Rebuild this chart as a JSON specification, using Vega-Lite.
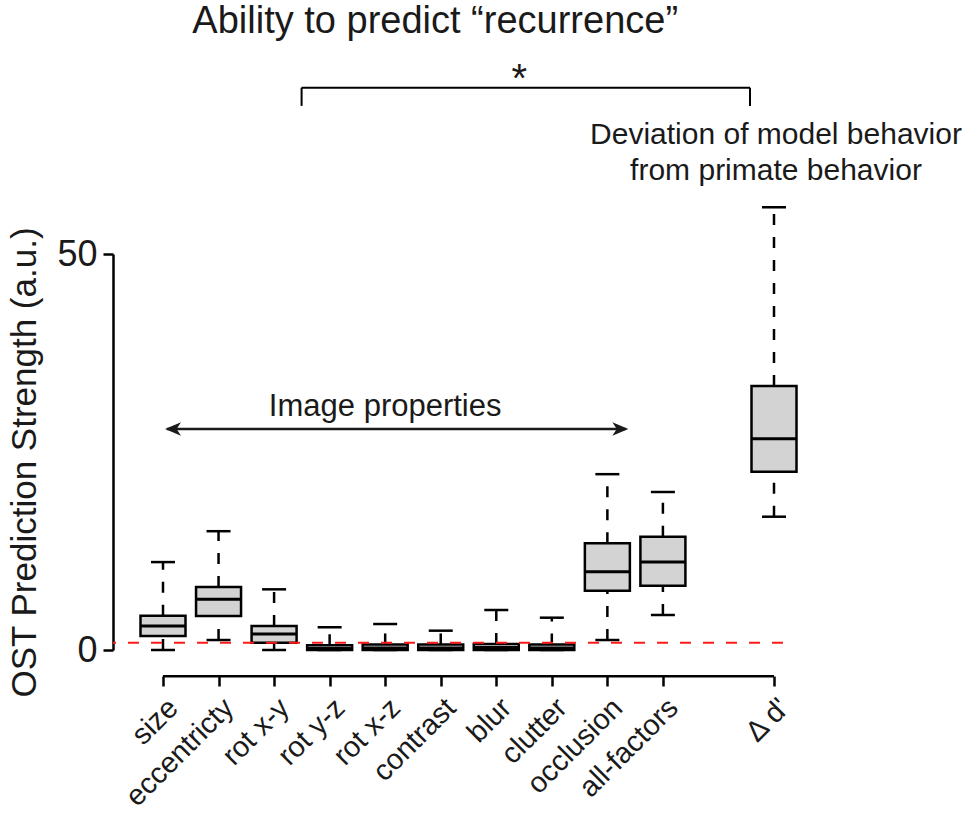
{
  "$schema": "https://vega.github.io/schema/vega-lite/v6.json",
  "width": 670,
  "height": 396,
  "autosize": {"type": "none"},
  "padding": {"left": 113, "top": 254, "right": 192, "bottom": 167},
  "background": "white",
  "config": {
    "view": {"stroke": null},
    "font": "Liberation Sans",
    "axis": {"grid": false, "domainColor": "#000", "tickColor": "#000", "labelColor": "#1a1a1a", "titleColor": "#1a1a1a", "labelFont": "Liberation Sans", "titleFont": "Liberation Sans", "titleFontWeight": "normal"},
    "axisX": {"labelAngle": -45, "labelFontSize": 29, "tickSize": 10, "tickWidth": 2.5, "domain": false, "offset": 26, "labelPadding": 7},
    "axisY": {"labelFontSize": 36, "tickSize": 10, "tickWidth": 2.5, "domainWidth": 2.5, "labelPadding": 6, "titleFontSize": 35, "titlePadding": 14, "titleLimit": 1000, "titleY": 208}
  },
  "data": {"values": [
    {"cat": "size", "min": 0, "q1": 1.77, "median": 3.03, "q3": 4.33, "max": 11.1},
    {"cat": "eccentricty", "min": 1.26, "q1": 4.29, "median": 6.4, "q3": 7.95, "max": 15.0},
    {"cat": "rot x-y", "min": 0, "q1": 0.92, "median": 2.02, "q3": 3.03, "max": 7.66},
    {"cat": "rot y-z", "min": 0, "q1": 0, "median": 0.2, "q3": 0.6, "max": 2.87},
    {"cat": "rot x-z", "min": 0, "q1": 0, "median": 0.25, "q3": 0.7, "max": 3.28},
    {"cat": "contrast", "min": 0, "q1": 0, "median": 0.25, "q3": 0.7, "max": 2.44},
    {"cat": "blur", "min": 0, "q1": 0, "median": 0.3, "q3": 0.75, "max": 5.05},
    {"cat": "clutter", "min": 0, "q1": 0, "median": 0.25, "q3": 0.7, "max": 4.08},
    {"cat": "occlusion", "min": 1.26, "q1": 7.49, "median": 9.89, "q3": 13.47, "max": 22.2},
    {"cat": "all-factors", "min": 4.42, "q1": 8.12, "median": 11.1, "q3": 14.3, "max": 19.95},
    {"cat": "Δ d'", "min": 16.83, "q1": 22.5, "median": 26.68, "q3": 33.33, "max": 55.9}
  ]},
  "layer": [
    {
      "mark": {"type": "rule", "color": "#000", "strokeWidth": 2.5, "strokeDash": [11, 12]},
      "encoding": {
        "x": {"field": "cat", "type": "nominal", "title": null, "scale": {"type": "point", "padding": 0, "domain": ["size", "eccentricty", "rot x-y", "rot y-z", "rot x-z", "contrast", "blur", "clutter", "occlusion", "all-factors", " ", "Δ d'"], "range": [50, 661]}, "axis": {"values": ["size", "eccentricty", "rot x-y", "rot y-z", "rot x-z", "contrast", "blur", "clutter", "occlusion", "all-factors", "Δ d'"]}},
        "y": {"field": "q3", "type": "quantitative", "title": "OST Prediction Strength (a.u.)", "scale": {"domain": [0, 50], "nice": false, "zero": false}, "axis": {"values": [0, 50]}},
        "y2": {"field": "max"}
      }
    },
    {
      "mark": {"type": "rule", "color": "#000", "strokeWidth": 2.5, "strokeDash": [11, 12]},
      "encoding": {
        "x": {"field": "cat", "type": "nominal", "title": null, "scale": {"type": "point", "padding": 0, "domain": ["size", "eccentricty", "rot x-y", "rot y-z", "rot x-z", "contrast", "blur", "clutter", "occlusion", "all-factors", " ", "Δ d'"], "range": [50, 661]}, "axis": {"values": ["size", "eccentricty", "rot x-y", "rot y-z", "rot x-z", "contrast", "blur", "clutter", "occlusion", "all-factors", "Δ d'"]}},
        "y": {"field": "min", "type": "quantitative", "title": "OST Prediction Strength (a.u.)", "scale": {"domain": [0, 50], "nice": false, "zero": false}, "axis": {"values": [0, 50]}},
        "y2": {"field": "q1"}
      }
    },
    {
      "mark": {"type": "tick", "color": "#000", "orient": "horizontal", "size": 24, "thickness": 2.5, "opacity": 1},
      "encoding": {
        "x": {"field": "cat", "type": "nominal", "title": null, "scale": {"type": "point", "padding": 0, "domain": ["size", "eccentricty", "rot x-y", "rot y-z", "rot x-z", "contrast", "blur", "clutter", "occlusion", "all-factors", " ", "Δ d'"], "range": [50, 661]}, "axis": {"values": ["size", "eccentricty", "rot x-y", "rot y-z", "rot x-z", "contrast", "blur", "clutter", "occlusion", "all-factors", "Δ d'"]}},
        "y": {"field": "max", "type": "quantitative", "title": "OST Prediction Strength (a.u.)", "scale": {"domain": [0, 50], "nice": false, "zero": false}, "axis": {"values": [0, 50]}}
      }
    },
    {
      "mark": {"type": "tick", "color": "#000", "orient": "horizontal", "size": 24, "thickness": 2.5, "opacity": 1},
      "encoding": {
        "x": {"field": "cat", "type": "nominal", "title": null, "scale": {"type": "point", "padding": 0, "domain": ["size", "eccentricty", "rot x-y", "rot y-z", "rot x-z", "contrast", "blur", "clutter", "occlusion", "all-factors", " ", "Δ d'"], "range": [50, 661]}, "axis": {"values": ["size", "eccentricty", "rot x-y", "rot y-z", "rot x-z", "contrast", "blur", "clutter", "occlusion", "all-factors", "Δ d'"]}},
        "y": {"field": "min", "type": "quantitative", "title": "OST Prediction Strength (a.u.)", "scale": {"domain": [0, 50], "nice": false, "zero": false}, "axis": {"values": [0, 50]}}
      }
    },
    {
      "mark": {"type": "bar", "width": 45, "fill": "#d3d3d3", "stroke": "#000", "strokeWidth": 2.5},
      "encoding": {
        "x": {"field": "cat", "type": "nominal", "title": null, "scale": {"type": "point", "padding": 0, "domain": ["size", "eccentricty", "rot x-y", "rot y-z", "rot x-z", "contrast", "blur", "clutter", "occlusion", "all-factors", " ", "Δ d'"], "range": [50, 661]}, "axis": {"values": ["size", "eccentricty", "rot x-y", "rot y-z", "rot x-z", "contrast", "blur", "clutter", "occlusion", "all-factors", "Δ d'"]}},
        "y": {"field": "q1", "type": "quantitative", "title": "OST Prediction Strength (a.u.)", "scale": {"domain": [0, 50], "nice": false, "zero": false}, "axis": {"values": [0, 50]}},
        "y2": {"field": "q3"}
      }
    },
    {
      "mark": {"type": "tick", "color": "#000", "orient": "horizontal", "size": 45, "thickness": 3, "opacity": 1},
      "encoding": {
        "x": {"field": "cat", "type": "nominal", "title": null, "scale": {"type": "point", "padding": 0, "domain": ["size", "eccentricty", "rot x-y", "rot y-z", "rot x-z", "contrast", "blur", "clutter", "occlusion", "all-factors", " ", "Δ d'"], "range": [50, 661]}, "axis": {"values": ["size", "eccentricty", "rot x-y", "rot y-z", "rot x-z", "contrast", "blur", "clutter", "occlusion", "all-factors", "Δ d'"]}},
        "y": {"field": "median", "type": "quantitative", "title": "OST Prediction Strength (a.u.)", "scale": {"domain": [0, 50], "nice": false, "zero": false}, "axis": {"values": [0, 50]}}
      }
    },
    {
      "data": {"values": [{"level": 0.92}]},
      "mark": {"type": "rule", "color": "#ff1a1a", "strokeWidth": 2, "strokeDash": [11, 12]},
      "encoding": {
        "y": {"field": "level", "type": "quantitative", "title": "OST Prediction Strength (a.u.)", "scale": {"domain": [0, 50], "nice": false, "zero": false}, "axis": {"values": [0, 50]}}
      }
    },
    {
      "data": {"values": [{"from": "size", "to": "Δ d'", "level": -3.3}]},
      "mark": {"type": "rule", "color": "#000", "strokeWidth": 2.5},
      "encoding": {
        "x": {"field": "from", "type": "nominal", "title": null, "scale": {"type": "point", "padding": 0, "domain": ["size", "eccentricty", "rot x-y", "rot y-z", "rot x-z", "contrast", "blur", "clutter", "occlusion", "all-factors", " ", "Δ d'"], "range": [50, 661]}, "axis": {"values": ["size", "eccentricty", "rot x-y", "rot y-z", "rot x-z", "contrast", "blur", "clutter", "occlusion", "all-factors", "Δ d'"]}},
        "x2": {"field": "to"},
        "y": {"field": "level", "type": "quantitative", "title": "OST Prediction Strength (a.u.)", "scale": {"domain": [0, 50], "nice": false, "zero": false}, "axis": {"values": [0, 50]}}
      }
    },
    {
      "data": {"values": [{"from": "rot x-y", "to": "Δ d'", "level": 71.0}]},
      "mark": {"type": "rule", "color": "#000", "strokeWidth": 2, "xOffset": 27.5, "x2Offset": -24},
      "encoding": {
        "x": {"field": "from", "type": "nominal", "title": null, "scale": {"type": "point", "padding": 0, "domain": ["size", "eccentricty", "rot x-y", "rot y-z", "rot x-z", "contrast", "blur", "clutter", "occlusion", "all-factors", " ", "Δ d'"], "range": [50, 661]}, "axis": {"values": ["size", "eccentricty", "rot x-y", "rot y-z", "rot x-z", "contrast", "blur", "clutter", "occlusion", "all-factors", "Δ d'"]}},
        "x2": {"field": "to"},
        "y": {"field": "level", "type": "quantitative", "title": "OST Prediction Strength (a.u.)", "scale": {"domain": [0, 50], "nice": false, "zero": false}, "axis": {"values": [0, 50]}}
      }
    },
    {
      "data": {"values": [{"at": "rot x-y", "top": 71.0, "bottom": 68.7}]},
      "mark": {"type": "rule", "color": "#000", "strokeWidth": 2, "xOffset": 27.5},
      "encoding": {
        "x": {"field": "at", "type": "nominal", "title": null, "scale": {"type": "point", "padding": 0, "domain": ["size", "eccentricty", "rot x-y", "rot y-z", "rot x-z", "contrast", "blur", "clutter", "occlusion", "all-factors", " ", "Δ d'"], "range": [50, 661]}, "axis": {"values": ["size", "eccentricty", "rot x-y", "rot y-z", "rot x-z", "contrast", "blur", "clutter", "occlusion", "all-factors", "Δ d'"]}},
        "y": {"field": "top", "type": "quantitative", "title": "OST Prediction Strength (a.u.)", "scale": {"domain": [0, 50], "nice": false, "zero": false}, "axis": {"values": [0, 50]}},
        "y2": {"field": "bottom"}
      }
    },
    {
      "data": {"values": [{"at": "Δ d'", "top": 71.0, "bottom": 68.7}]},
      "mark": {"type": "rule", "color": "#000", "strokeWidth": 2, "xOffset": -24},
      "encoding": {
        "x": {"field": "at", "type": "nominal", "title": null, "scale": {"type": "point", "padding": 0, "domain": ["size", "eccentricty", "rot x-y", "rot y-z", "rot x-z", "contrast", "blur", "clutter", "occlusion", "all-factors", " ", "Δ d'"], "range": [50, 661]}, "axis": {"values": ["size", "eccentricty", "rot x-y", "rot y-z", "rot x-z", "contrast", "blur", "clutter", "occlusion", "all-factors", "Δ d'"]}},
        "y": {"field": "top", "type": "quantitative", "title": "OST Prediction Strength (a.u.)", "scale": {"domain": [0, 50], "nice": false, "zero": false}, "axis": {"values": [0, 50]}},
        "y2": {"field": "bottom"}
      }
    },
    {
      "data": {"values": [{"from": "size", "to": "occlusion", "level": 27.9}]},
      "mark": {"type": "rule", "color": "#1a1a1a", "strokeWidth": 2.5, "xOffset": 4, "x2Offset": 18},
      "encoding": {
        "x": {"field": "from", "type": "nominal", "title": null, "scale": {"type": "point", "padding": 0, "domain": ["size", "eccentricty", "rot x-y", "rot y-z", "rot x-z", "contrast", "blur", "clutter", "occlusion", "all-factors", " ", "Δ d'"], "range": [50, 661]}, "axis": {"values": ["size", "eccentricty", "rot x-y", "rot y-z", "rot x-z", "contrast", "blur", "clutter", "occlusion", "all-factors", "Δ d'"]}},
        "x2": {"field": "to"},
        "y": {"field": "level", "type": "quantitative", "title": "OST Prediction Strength (a.u.)", "scale": {"domain": [0, 50], "nice": false, "zero": false}, "axis": {"values": [0, 50]}}
      }
    },
    {
      "data": {"values": [{"at": "size", "level": 27.9}]},
      "mark": {"type": "point", "filled": true, "color": "#1a1a1a", "opacity": 1, "size": 256, "xOffset": 10, "shape": "M-1,0L1,-0.85L0.45,0L1,0.85Z"},
      "encoding": {
        "x": {"field": "at", "type": "nominal", "title": null, "scale": {"type": "point", "padding": 0, "domain": ["size", "eccentricty", "rot x-y", "rot y-z", "rot x-z", "contrast", "blur", "clutter", "occlusion", "all-factors", " ", "Δ d'"], "range": [50, 661]}, "axis": {"values": ["size", "eccentricty", "rot x-y", "rot y-z", "rot x-z", "contrast", "blur", "clutter", "occlusion", "all-factors", "Δ d'"]}},
        "y": {"field": "level", "type": "quantitative", "title": "OST Prediction Strength (a.u.)", "scale": {"domain": [0, 50], "nice": false, "zero": false}, "axis": {"values": [0, 50]}}
      }
    },
    {
      "data": {"values": [{"at": "occlusion", "level": 27.9}]},
      "mark": {"type": "point", "filled": true, "color": "#1a1a1a", "opacity": 1, "size": 256, "xOffset": 13, "shape": "M1,0L-1,-0.85L-0.45,0L-1,0.85Z"},
      "encoding": {
        "x": {"field": "at", "type": "nominal", "title": null, "scale": {"type": "point", "padding": 0, "domain": ["size", "eccentricty", "rot x-y", "rot y-z", "rot x-z", "contrast", "blur", "clutter", "occlusion", "all-factors", " ", "Δ d'"], "range": [50, 661]}, "axis": {"values": ["size", "eccentricty", "rot x-y", "rot y-z", "rot x-z", "contrast", "blur", "clutter", "occlusion", "all-factors", "Δ d'"]}},
        "y": {"field": "level", "type": "quantitative", "title": "OST Prediction Strength (a.u.)", "scale": {"domain": [0, 50], "nice": false, "zero": false}, "axis": {"values": [0, 50]}}
      }
    },
    {
      "data": {"values": [
        {"at": "rot x-z", "level": 79.3, "label": "Ability to predict “recurrence”", "size": 38, "shift": 50},
        {"at": "blur", "level": 72.0, "label": "*", "size": 40, "shift": 23},
        {"at": "Δ d'", "level": 65.0, "label": "Deviation of model behavior\nfrom primate behavior", "size": 30, "shift": 2},
        {"at": "rot x-z", "level": 30.7, "label": "Image properties", "size": 31, "shift": 0}
      ]},
      "mark": {"type": "text", "color": "#1a1a1a", "align": "center", "baseline": "middle", "lineBreak": "\n", "lineHeight": 36, "font": "Liberation Sans"},
      "encoding": {
        "x": {"field": "at", "type": "nominal", "title": null, "scale": {"type": "point", "padding": 0, "domain": ["size", "eccentricty", "rot x-y", "rot y-z", "rot x-z", "contrast", "blur", "clutter", "occlusion", "all-factors", " ", "Δ d'"], "range": [50, 661]}, "axis": {"values": ["size", "eccentricty", "rot x-y", "rot y-z", "rot x-z", "contrast", "blur", "clutter", "occlusion", "all-factors", "Δ d'"]}},
        "y": {"field": "level", "type": "quantitative", "title": "OST Prediction Strength (a.u.)", "scale": {"domain": [0, 50], "nice": false, "zero": false}, "axis": {"values": [0, 50]}},
        "text": {"field": "label"},
        "size": {"field": "size", "type": "quantitative", "scale": null},
        "xOffset": {"field": "shift", "type": "quantitative", "scale": null}
      }
    }
  ]
}
